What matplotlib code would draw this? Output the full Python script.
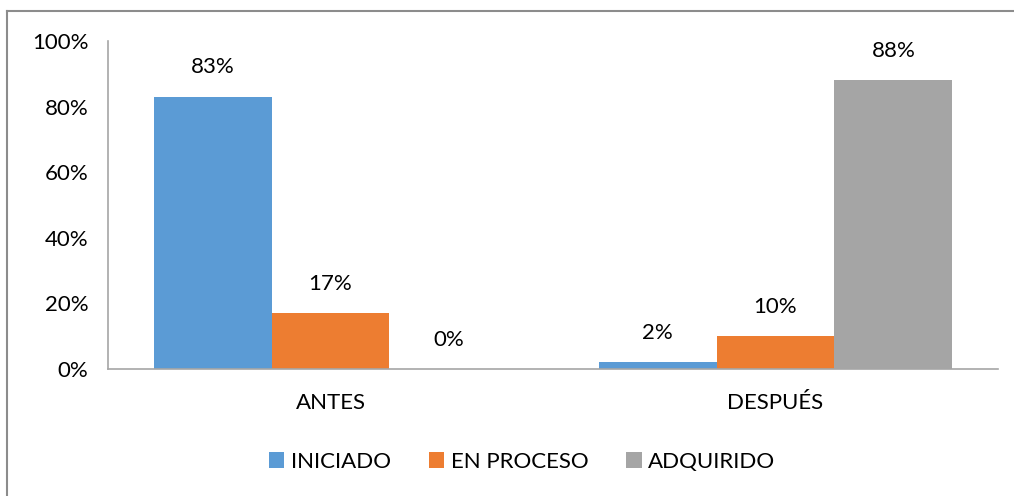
import numpy as np
import matplotlib.pyplot as plt
from matplotlib.lines import Line2D

# --- Daten ---
categories = ["ANTES", "DESPUÉS"]
series = ["INICIADO", "EN PROCESO", "ADQUIRIDO"]
iniciado = [83, 2]
en_proceso = [17, 10]
adquirido = [0, 88]
colors = ["#5B9BD5", "#ED7D31", "#A5A5A5"]

plt.rcParams['font.family'] = ['Lato', 'DejaVu Sans']

fig = plt.figure(figsize=(10.14, 4.96), dpi=100)
ax = fig.add_axes([108 / 1014, 1 - 369 / 496, (998 - 108) / 1014, (369 - 41) / 496])

# Rahmen (nur links und oben sichtbar)
x0, y0 = 6.5 / 1014, 1 - 11 / 496
fig.lines.append(Line2D([x0, x0], [0, y0], transform=fig.transFigure,
                        color="#8C8C8C", linewidth=1.5))
fig.lines.append(Line2D([x0, 1], [y0, y0], transform=fig.transFigure,
                        color="#8C8C8C", linewidth=1.5))

x = np.arange(len(categories))
w = 0.265
for i, (vals, name) in enumerate(zip([iniciado, en_proceso, adquirido], series)):
    pos = x + (i - 1) * w
    ax.bar(pos, vals, width=w, color=colors[i], label=name)
    for p, v in zip(pos, vals):
        ax.annotate(f"{v}%", (p, v), xytext=(0, 14), textcoords="offset points",
                    ha="center", va="bottom", fontsize=16)

ax.set_xlim(-0.5, 1.5)
ax.set_ylim(0, 100)
ax.set_yticks([0, 20, 40, 60, 80, 100])
ax.set_yticklabels([f"{t}%" for t in [0, 20, 40, 60, 80, 100]], fontsize=16)
ax.set_xticks(x)
ax.set_xticklabels(categories, fontsize=16)
ax.tick_params(length=0, pad=14)
ax.tick_params(axis="x", pad=17)
for s in ["top", "right"]:
    ax.spines[s].set_visible(False)
for s in ["left", "bottom"]:
    ax.spines[s].set_color("#A6A6A6")
    ax.spines[s].set_linewidth(1.2)

fig.legend(loc="center", bbox_to_anchor=(522 / 1014, 1 - 462 / 496), ncol=3,
           frameon=False, fontsize=16, handlelength=0.7, handleheight=0.7,
           handletextpad=0.3, columnspacing=1.7)

plt.savefig("out.png", dpi=100)
